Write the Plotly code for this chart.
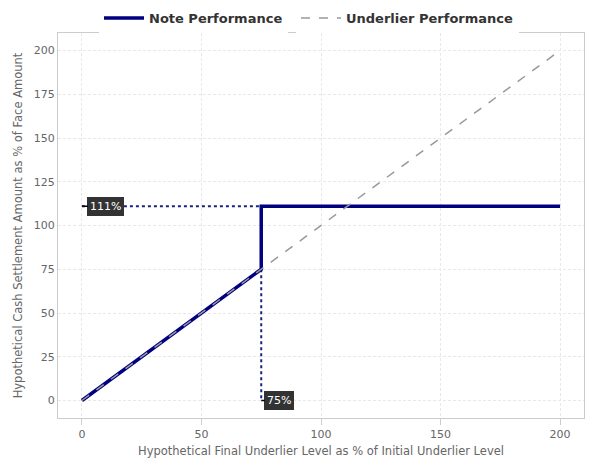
import plotly.graph_objects as go

note_x = [0, 75, 75, 200]
note_y = [0, 75, 111, 111]
under_x = [0, 200]
under_y = [0, 200]
cap_level = 111
barrier_level = 75
x_ticks = [0, 50, 100, 150, 200]
y_ticks = [0, 25, 50, 75, 100, 125, 150, 175, 200]

W, H = 608, 466

fig = go.Figure()
# reference dotted lines
fig.add_trace(go.Scatter(x=[0, barrier_level], y=[cap_level, cap_level], mode="lines",
                         line=dict(color="#1a237e", width=2, dash="dot"), showlegend=False, hoverinfo="skip"))
fig.add_trace(go.Scatter(x=[barrier_level, barrier_level], y=[barrier_level, 0], mode="lines",
                         line=dict(color="#1a237e", width=2, dash="dot"), showlegend=False, hoverinfo="skip"))
fig.add_trace(go.Scatter(x=note_x, y=note_y, mode="lines", name="Note Performance",
                         line=dict(color="#000080", width=3.5), legend="legend"))
fig.add_trace(go.Scatter(x=under_x, y=under_y, mode="lines", name="Underlier Performance",
                         line=dict(color="#999999", width=1.5, dash="dash"), legend="legend2"))

for xv, yv, txt, ax in [(0, cap_level, f"{cap_level}%", 24), (barrier_level, 0, f"{barrier_level}%", 18)]:
    fig.add_annotation(x=xv, y=yv, text=txt, showarrow=True, arrowhead=0, arrowwidth=1.5,
                       arrowcolor="#000000", ax=ax, ay=0, bgcolor="#333333", bordercolor="#333333",
                       borderpad=2, font=dict(color="white", size=11, family="DejaVu Sans"))

axis_common = dict(showline=True, linecolor="#cccccc", linewidth=1, mirror=True,
                   gridcolor="#e8e8e8", griddash="3px,2px", zeroline=False, automargin=False,
                   tickfont=dict(size=11, color="#666666"), range=[-10, 210])
fig.update_xaxes(**axis_common, tickvals=x_ticks, ticks="outside", ticklen=6, tickcolor="#cccccc",
                 title=dict(text="Hypothetical Final Underlier Level as % of Initial Underlier Level",
                            font=dict(size=11.5, color="#666666"), standoff=6))
fig.update_yaxes(**axis_common, tickvals=y_ticks, ticks="",
                 title=dict(text="Hypothetical Cash Settlement Amount as % of Face Amount",
                            font=dict(size=11.5, color="#666666"), standoff=8))

leg_common = dict(orientation="h", xanchor="left", xref="container",
                  y=1 - 10 / H, yanchor="middle", yref="container",
                  font=dict(size=13, color="#333333", weight="bold"), itemwidth=40)
fig.update_layout(
    width=W, height=H, plot_bgcolor="white", paper_bgcolor="white",
    margin=dict(l=50, r=32, t=25, b=56, autoexpand=False),
    font=dict(family="DejaVu Sans", color="#333333"),
    legend=dict(**leg_common, x=91 / W),
    legend2=dict(**leg_common, x=288 / W),
)
fig.write_html("out.html")
